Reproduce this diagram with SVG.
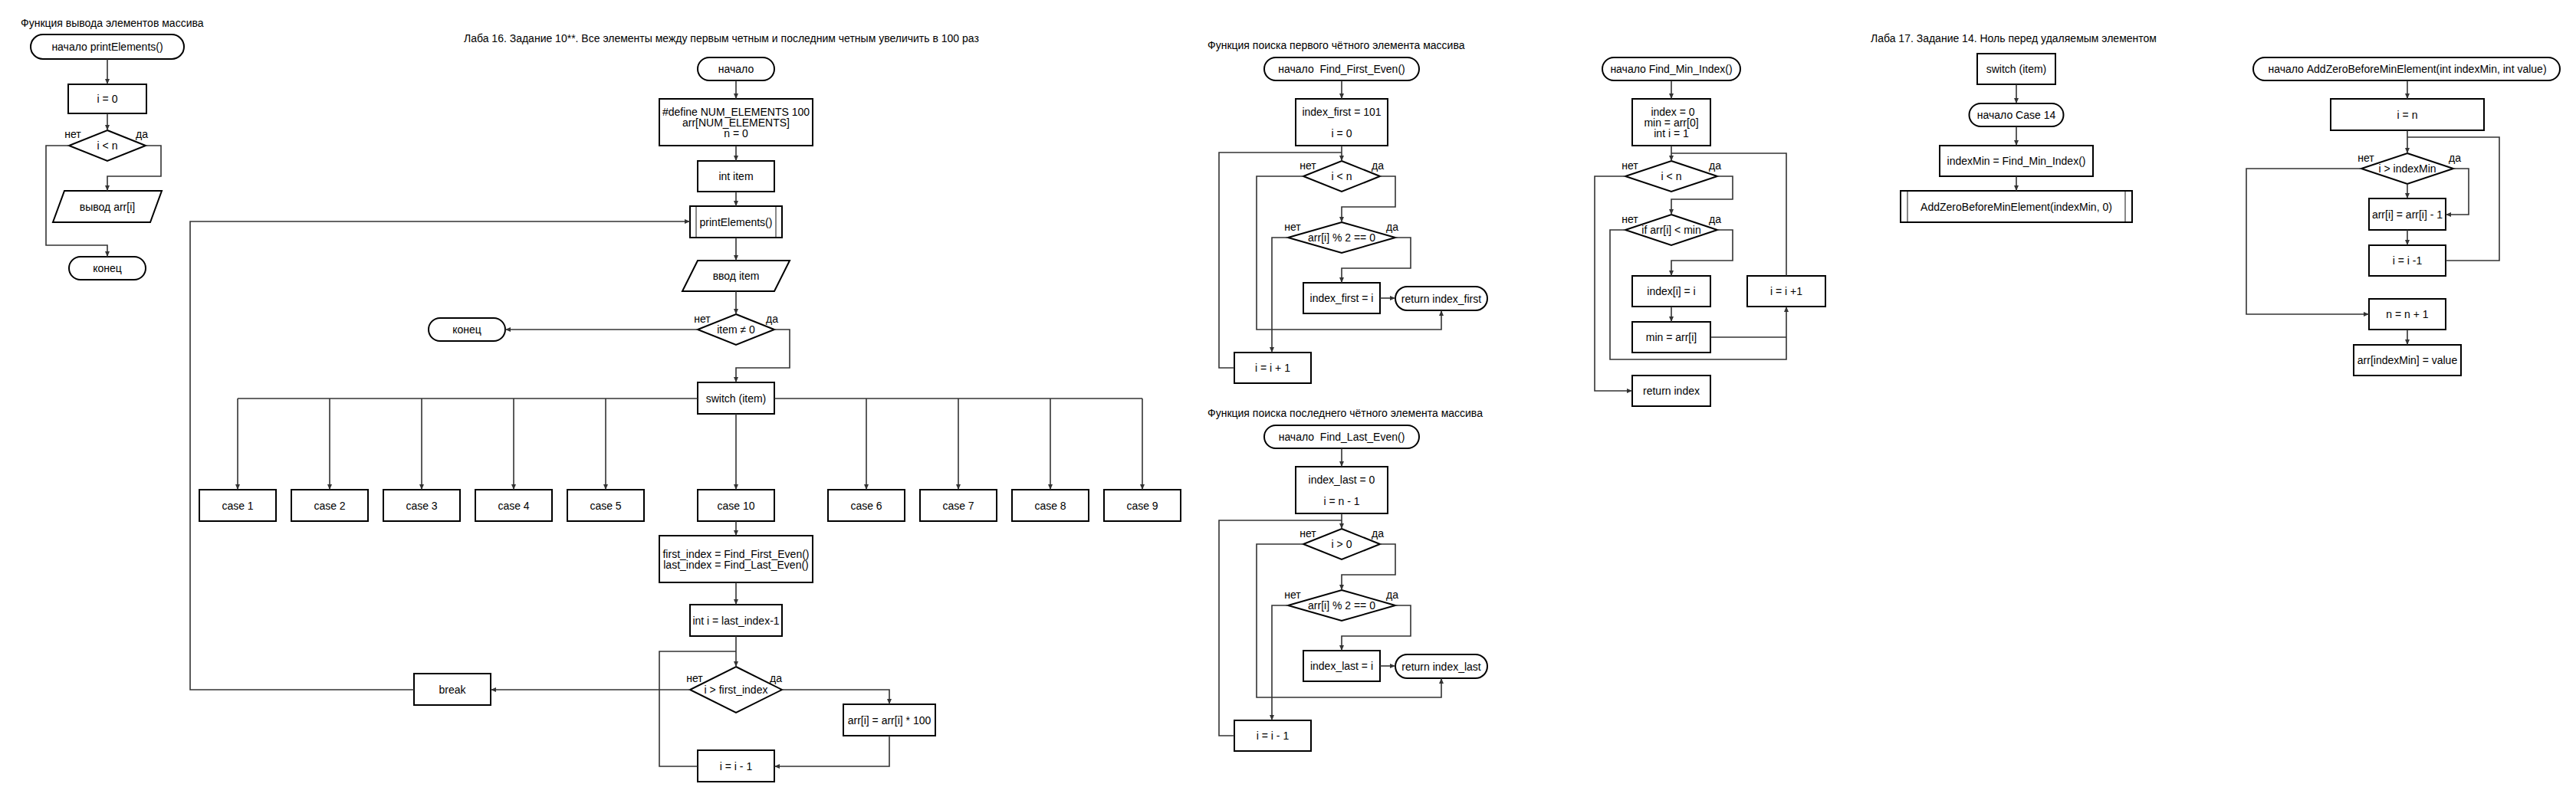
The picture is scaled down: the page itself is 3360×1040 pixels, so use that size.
<svg xmlns="http://www.w3.org/2000/svg" width="3360" height="1040" viewBox="0 0 3360 1040">
<style>
text{font-family:"Liberation Sans",Arial,sans-serif;font-size:14px;fill:#000;dominant-baseline:central;text-anchor:middle}
.title{text-anchor:start}
.s{fill:#fff;stroke:#000;stroke-width:2}
.sub{stroke:#888;stroke-width:2}
.c{fill:none;stroke:#333;stroke-width:1.6}
.a{marker-end:url(#ar)}
</style>
<defs>
<marker id="ar" markerUnits="userSpaceOnUse" markerWidth="8" markerHeight="8" refX="7" refY="3" orient="auto">
<path d="M0,0 L7,3 L0,6 z" fill="#333"/>
</marker>
</defs>
<rect width="3360" height="1040" fill="#fff"/>

<!-- Section 1: printElements -->
<text class="title" x="27" y="30">Функция вывода элементов массива</text>
<g id="pe_start"><rect class="s" x="40" y="45" width="200" height="32" rx="16"/><text x="140" y="61">начало printElements()</text></g>
<g id="pe_init"><rect class="s" x="89" y="110" width="102" height="38"/><text x="140" y="129">i = 0</text></g>
<g id="pe_cond"><polygon class="s" points="140,170 190,190 140,210 90,190"/><text x="140" y="190">i &lt; n</text><text x="95" y="175">нет</text><text x="185" y="175">да</text></g>
<g id="pe_out"><polygon class="s" points="84,249 211,249 196,290 69,290"/><text x="140" y="269.5">вывод arr[i]</text></g>
<g id="pe_end"><rect class="s" x="90" y="335" width="100" height="30" rx="15"/><text x="140" y="350">конец</text></g>

<!-- Section 2: Lab 16 -->
<text class="title" x="605" y="50">Лаба 16. Задание 10**. Все элементы между первым четным и последним четным увеличить в 100 раз</text>
<g id="l16_start"><rect class="s" x="910" y="75" width="100" height="30" rx="15"/><text x="960" y="90">начало</text></g>
<g id="l16_define"><rect class="s" x="860" y="129" width="200" height="61"/><text x="960" y="145.5">#define NUM_ELEMENTS 100</text><text x="960" y="159.5">arr[NUM_ELEMENTS]</text><text x="960" y="173.5">n = 0</text></g>
<g id="l16_item"><rect class="s" x="910" y="210" width="100" height="40"/><text x="960" y="230">int item</text></g>
<g id="l16_print"><rect class="s" x="900" y="269" width="120" height="41"/><line class="sub" x1="908" y1="270" x2="908" y2="309"/><line class="sub" x1="1012" y1="270" x2="1012" y2="309"/><text x="960" y="289.5">printElements()</text></g>
<g id="l16_input"><polygon class="s" points="910,340 1030,340 1010,380 890,380"/><text x="960" y="360">ввод item</text></g>
<g id="l16_cond"><polygon class="s" points="960,410 1010,430 960,450 910,430"/><text x="960" y="430">item ≠ 0</text><text x="916" y="416">нет</text><text x="1007" y="416">да</text></g>
<g id="l16_end"><rect class="s" x="559" y="415" width="100" height="30" rx="15"/><text x="609" y="430">конец</text></g>
<g id="l16_switch"><rect class="s" x="910" y="499" width="100" height="41"/><text x="960" y="519.5">switch (item)</text></g>
<g id="case1"><rect class="s" x="260" y="639" width="100" height="41"/><text x="310" y="659.5">case 1</text></g>
<g id="case2"><rect class="s" x="380" y="639" width="100" height="41"/><text x="430" y="659.5">case 2</text></g>
<g id="case3"><rect class="s" x="500" y="639" width="100" height="41"/><text x="550" y="659.5">case 3</text></g>
<g id="case4"><rect class="s" x="620" y="639" width="100" height="41"/><text x="670" y="659.5">case 4</text></g>
<g id="case5"><rect class="s" x="740" y="639" width="100" height="41"/><text x="790" y="659.5">case 5</text></g>
<g id="case10"><rect class="s" x="910" y="639" width="100" height="41"/><text x="960" y="659.5">case 10</text></g>
<g id="case6"><rect class="s" x="1080" y="639" width="100" height="41"/><text x="1130" y="659.5">case 6</text></g>
<g id="case7"><rect class="s" x="1200" y="639" width="100" height="41"/><text x="1250" y="659.5">case 7</text></g>
<g id="case8"><rect class="s" x="1320" y="639" width="100" height="41"/><text x="1370" y="659.5">case 8</text></g>
<g id="case9"><rect class="s" x="1440" y="639" width="100" height="41"/><text x="1490" y="659.5">case 9</text></g>
<g id="l16_find"><rect class="s" x="860" y="699" width="200" height="61"/><text x="960" y="722.5">first_index = Find_First_Even()</text><text x="960" y="736.5">last_index = Find_Last_Even()</text></g>
<g id="l16_initi"><rect class="s" x="900" y="789" width="120" height="41"/><text x="960" y="809.5">int i = last_index-1</text></g>
<g id="l16_loop"><polygon class="s" points="960,870 1020,900 960,930 900,900"/><text x="960" y="900">i &gt; first_index</text><text x="906" y="885">нет</text><text x="1012" y="885">да</text></g>
<g id="l16_break"><rect class="s" x="540" y="879" width="100" height="41"/><text x="590" y="899.5">break</text></g>
<g id="l16_mul"><rect class="s" x="1100" y="919" width="120" height="41"/><text x="1160" y="939.5">arr[i] = arr[i] * 100</text></g>
<g id="l16_dec"><rect class="s" x="910" y="979" width="100" height="41"/><text x="960" y="999.5">i = i - 1</text></g>

<!-- Section 3: Find_First_Even -->
<text class="title" x="1575" y="59">Функция поиска первого чётного элемента массива</text>
<g id="ffe_start"><rect class="s" x="1649" y="75" width="202" height="30" rx="15"/><text x="1750" y="90" xml:space="preserve">начало  Find_First_Even()</text></g>
<g id="ffe_init"><rect class="s" x="1690" y="129" width="120" height="61"/><text x="1750" y="145.5">index_first = 101</text><text x="1750" y="173.5">i = 0</text></g>
<g id="ffe_cond1"><polygon class="s" points="1750,210 1800,230 1750,250 1700,230"/><text x="1750" y="230">i &lt; n</text><text x="1706" y="216">нет</text><text x="1797" y="216">да</text></g>
<g id="ffe_cond2"><polygon class="s" points="1750,290 1820,310 1750,330 1680,310"/><text x="1750" y="310">arr[i] % 2 == 0</text><text x="1686" y="296">нет</text><text x="1816" y="296">да</text></g>
<g id="ffe_set"><rect class="s" x="1700" y="369" width="100" height="40"/><text x="1750" y="389">index_first = i</text></g>
<g id="ffe_ret"><rect class="s" x="1820" y="374" width="120" height="31" rx="15.5"/><text x="1880" y="389.5">return index_first</text></g>
<g id="ffe_inc"><rect class="s" x="1610" y="460" width="100" height="40"/><text x="1660" y="480">i = i + 1</text></g>

<!-- Section 3b: Find_Last_Even -->
<text class="title" x="1575" y="539">Функция поиска последнего чётного элемента массива</text>
<g id="fle_start"><rect class="s" x="1649" y="555" width="202" height="30" rx="15"/><text x="1750" y="570" xml:space="preserve">начало  Find_Last_Even()</text></g>
<g id="fle_init"><rect class="s" x="1690" y="609" width="120" height="61"/><text x="1750" y="625.5">index_last = 0</text><text x="1750" y="653.5">i = n - 1</text></g>
<g id="fle_cond1"><polygon class="s" points="1750,690 1800,710 1750,730 1700,710"/><text x="1750" y="710">i &gt; 0</text><text x="1706" y="696">нет</text><text x="1797" y="696">да</text></g>
<g id="fle_cond2"><polygon class="s" points="1750,770 1820,790 1750,810 1680,790"/><text x="1750" y="790">arr[i] % 2 == 0</text><text x="1686" y="776">нет</text><text x="1816" y="776">да</text></g>
<g id="fle_set"><rect class="s" x="1700" y="849" width="100" height="40"/><text x="1750" y="869">index_last = i</text></g>
<g id="fle_ret"><rect class="s" x="1820" y="854" width="120" height="31" rx="15.5"/><text x="1880" y="869.5">return index_last</text></g>
<g id="fle_dec"><rect class="s" x="1610" y="940" width="100" height="40"/><text x="1660" y="960">i = i - 1</text></g>

<!-- Section 4: Find_Min_Index -->
<g id="fmi_start"><rect class="s" x="2090" y="75" width="180" height="30" rx="15"/><text x="2180" y="90">начало Find_Min_Index()</text></g>
<g id="fmi_init"><rect class="s" x="2129" y="129" width="102" height="61"/><text x="2182" y="146">index = 0</text><text x="2180" y="160">min = arr[0]</text><text x="2180" y="174">int i = 1</text></g>
<g id="fmi_cond1"><polygon class="s" points="2180,210 2240,230 2180,250 2120,230"/><text x="2180" y="230">i &lt; n</text><text x="2126" y="216">нет</text><text x="2237" y="216">да</text></g>
<g id="fmi_cond2"><polygon class="s" points="2180,280 2240,300 2180,320 2120,300"/><text x="2180" y="300">if arr[i] &lt; min</text><text x="2126" y="286">нет</text><text x="2237" y="286">да</text></g>
<g id="fmi_set1"><rect class="s" x="2129" y="360" width="102" height="40"/><text x="2180" y="380">index[i] = i</text></g>
<g id="fmi_set2"><rect class="s" x="2129" y="420" width="102" height="40"/><text x="2180" y="440">min = arr[i]</text></g>
<g id="fmi_inc"><rect class="s" x="2279" y="360" width="102" height="40"/><text x="2330" y="380">i = i +1</text></g>
<g id="fmi_ret"><rect class="s" x="2129" y="490" width="102" height="40"/><text x="2180" y="510">return index</text></g>

<!-- Section 5: Lab 17 -->
<text class="title" x="2440" y="50">Лаба 17. Задание 14. Ноль перед удаляемым элементом</text>
<g id="l17_switch"><rect class="s" x="2579" y="70" width="102" height="40"/><text x="2630" y="90">switch (item)</text></g>
<g id="l17_start"><rect class="s" x="2568.5" y="135" width="123" height="30" rx="15"/><text x="2630" y="150">начало Case 14</text></g>
<g id="l17_find"><rect class="s" x="2530" y="190" width="200" height="40"/><text x="2630" y="210">indexMin = Find_Min_Index()</text></g>
<g id="l17_add"><rect class="s" x="2479" y="249" width="302" height="41"/><line class="sub" x1="2488" y1="250" x2="2488" y2="289"/><line class="sub" x1="2772" y1="250" x2="2772" y2="289"/><text x="2630" y="269.5">AddZeroBeforeMinElement(indexMin, 0)</text></g>

<!-- Section 6: AddZeroBeforeMinElement -->
<g id="az_start"><rect class="s" x="2939" y="75" width="400" height="30" rx="15"/><text x="3140" y="90">начало AddZeroBeforeMinElement(int indexMin, int value)</text></g>
<g id="az_init"><rect class="s" x="3040" y="129" width="200" height="41"/><text x="3140" y="149.5">i = n</text></g>
<g id="az_cond"><polygon class="s" points="3140,200 3200,220 3140,240 3080,220"/><text x="3140" y="220">i &gt; indexMin</text><text x="3086" y="206">нет</text><text x="3202" y="206">да</text></g>
<g id="az_shift"><rect class="s" x="3090" y="259" width="100" height="41"/><text x="3140" y="279.5">arr[i] = arr[i] - 1</text></g>
<g id="az_dec"><rect class="s" x="3090" y="320" width="100" height="40"/><text x="3140" y="340">i = i -1</text></g>
<g id="az_inc"><rect class="s" x="3090" y="390" width="100" height="40"/><text x="3140" y="410">n = n + 1</text></g>
<g id="az_set"><rect class="s" x="3070" y="450" width="140" height="40"/><text x="3140" y="470">arr[indexMin] = value</text></g>

<!-- Connectors -->
<g id="connectors">
<!-- printElements -->
<path class="c a" d="M140,77 V110"/>
<path class="c a" d="M140,148 V170"/>
<path class="c a" d="M190,190 H210 V230 H140 V249"/>
<path class="c a" d="M90,190 H60 V320 H140 V335"/>
<!-- Lab 16 -->
<path class="c a" d="M960,105 V129"/>
<path class="c a" d="M960,190 V210"/>
<path class="c a" d="M960,250 V269"/>
<path class="c a" d="M960,310 V340"/>
<path class="c a" d="M960,380 V410"/>
<path class="c a" d="M910,430 H659"/>
<path class="c a" d="M1010,430 H1030 V480 H960 V499"/>
<path class="c" d="M910,520 H310"/>
<path class="c" d="M1010,520 H1490"/>
<path class="c a" d="M310,520 V639"/>
<path class="c a" d="M430,520 V639"/>
<path class="c a" d="M550,520 V639"/>
<path class="c a" d="M670,520 V639"/>
<path class="c a" d="M790,520 V639"/>
<path class="c a" d="M1130,520 V639"/>
<path class="c a" d="M1250,520 V639"/>
<path class="c a" d="M1370,520 V639"/>
<path class="c a" d="M1490,520 V639"/>
<path class="c a" d="M960,540 V639"/>
<path class="c a" d="M960,680 V699"/>
<path class="c a" d="M960,760 V789"/>
<path class="c a" d="M960,830 V870"/>
<path class="c a" d="M900,900 H640"/>
<path class="c a" d="M540,900 H248 V289 H900"/>
<path class="c a" d="M1020,900 H1160 V919"/>
<path class="c a" d="M1160,960 V1000 H1010"/>
<path class="c" d="M910,1000 H860 V850 H960"/>
<!-- Find_First_Even -->
<path class="c a" d="M1750,105 V129"/>
<path class="c a" d="M1750,190 V210"/>
<path class="c" d="M1610,480 H1590 V199 H1750"/>
<path class="c a" d="M1800,230 H1820 V270 H1750 V290"/>
<path class="c a" d="M1700,230 H1639 V430 H1880 V405"/>
<path class="c a" d="M1820,310 H1840 V350 H1750 V369"/>
<path class="c a" d="M1680,310 H1659 V460"/>
<path class="c a" d="M1800,389 H1820"/>
<!-- Find_Last_Even -->
<path class="c a" d="M1750,585 V609"/>
<path class="c a" d="M1750,670 V690"/>
<path class="c" d="M1610,960 H1590 V679 H1750"/>
<path class="c a" d="M1800,710 H1820 V750 H1750 V770"/>
<path class="c a" d="M1700,710 H1639 V910 H1880 V885"/>
<path class="c a" d="M1820,790 H1840 V830 H1750 V849"/>
<path class="c a" d="M1680,790 H1659 V940"/>
<path class="c a" d="M1800,869 H1820"/>
<!-- Find_Min_Index -->
<path class="c a" d="M2180,105 V129"/>
<path class="c a" d="M2180,190 V210"/>
<path class="c" d="M2330,360 V200 H2180"/>
<path class="c a" d="M2240,230 H2260 V260 H2180 V280"/>
<path class="c a" d="M2120,230 H2080 V510 H2129"/>
<path class="c a" d="M2240,300 H2260 V340 H2180 V360"/>
<path class="c a" d="M2120,300 H2100 V469 H2330 V400"/>
<path class="c a" d="M2180,400 V420"/>
<path class="c" d="M2231,440 H2330"/>
<!-- Lab 17 -->
<path class="c a" d="M2630,110 V135"/>
<path class="c a" d="M2630,165 V190"/>
<path class="c a" d="M2630,230 V249"/>
<!-- AddZeroBeforeMinElement -->
<path class="c a" d="M3140,105 V129"/>
<path class="c a" d="M3140,170 V200"/>
<path class="c" d="M3190,340 H3260 V179 H3140"/>
<path class="c a" d="M3140,240 V259"/>
<path class="c a" d="M3200,220 H3220 V280 H3190"/>
<path class="c a" d="M3140,300 V320"/>
<path class="c a" d="M3080,220 H2930 V410 H3090"/>
<path class="c a" d="M3140,430 V450"/>
</g>
</svg>
